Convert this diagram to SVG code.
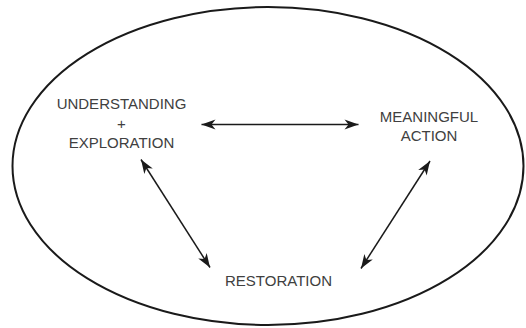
<svg xmlns="http://www.w3.org/2000/svg" width="526" height="328" viewBox="0 0 526 328">
  <style>
    .label { font-family: "Liberation Sans", Arial, sans-serif; font-size: 15px; fill: #404040; text-anchor: middle; }
    .outline { fill: none; stroke: #1a1a1a; stroke-width: 2; }
    .link { fill: none; stroke: #1a1a1a; stroke-width: 1.5; marker-start: url(#head); marker-end: url(#head); }
  </style>
  <defs>
    <marker id="head" markerUnits="userSpaceOnUse" markerWidth="18" markerHeight="14" viewBox="-15 -7 16 14" refX="0" refY="0" orient="auto-start-reverse">
      <path d="M0,0 L-14,-5 L-10,0 L-14,5 Z" fill="#1a1a1a"/>
    </marker>
  </defs>

  <rect width="526" height="328" fill="#ffffff"/>

  <!-- enclosing oval -->
  <ellipse class="outline" cx="268" cy="166" rx="255.5" ry="159"/>

  <!-- connectors -->
  <g id="connectors">
    <line class="link" x1="201.5" y1="124.5" x2="358.5" y2="124.5"/>
    <line class="link" x1="141" y1="159.5" x2="210" y2="267.5"/>
    <line class="link" x1="430" y1="161" x2="361" y2="268.5"/>
  </g>

  <g id="understanding">
    <text class="label" x="121.5" y="109">UNDERSTANDING</text>
    <text class="label" x="121.5" y="128.5">+</text>
    <text class="label" x="121.5" y="148">EXPLORATION</text>
  </g>

  <g id="meaningful-action">
    <text class="label" x="429" y="121.5">MEANINGFUL</text>
    <text class="label" x="429" y="140.5">ACTION</text>
  </g>

  <g id="restoration">
    <text class="label" x="278.5" y="286">RESTORATION</text>
  </g>
</svg>
